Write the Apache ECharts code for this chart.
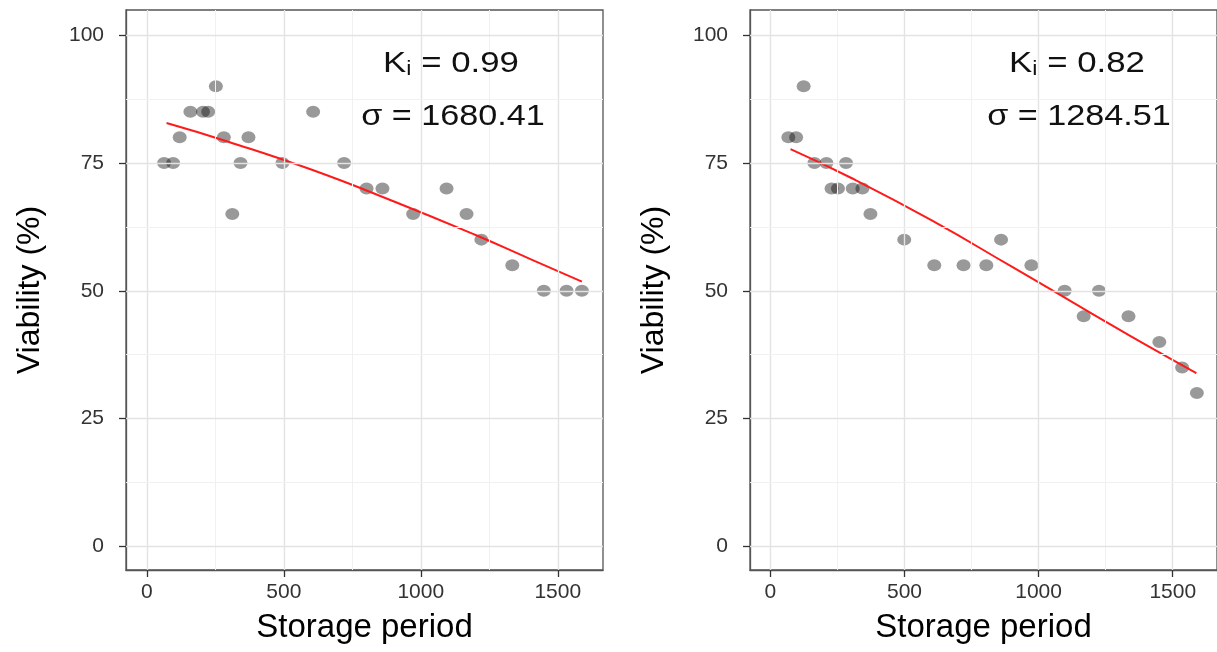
<!DOCTYPE html>
<html>
<head>
<meta charset="utf-8">
<script src="https://cdn.jsdelivr.net/npm/echarts@6/dist/echarts.min.js"></script>
<style>
html,body{margin:0;padding:0;background:#fff;}
#c{width:1217px;height:652px;}
</style>
</head>
<body>
<div id="c"></div>
<script>
// ---- data ----
const xTicks = [0, 500, 1000, 1500];
const xMinor = [250, 750, 1250];
const yTicks = [0, 25, 50, 75, 100];
const yMinor = [12.5, 37.5, 62.5, 87.5];

const leftX = [63, 96, 120, 159, 205, 224, 252, 281, 312, 342, 371, 495, 607, 720, 802, 860, 972, 1094, 1167, 1221, 1334, 1449, 1532, 1588];
const leftY = [75, 75, 80, 85, 85, 85, 90, 80, 65, 75, 80, 75, 85, 75, 70, 70, 65, 70, 65, 60, 55, 50, 50, 50];
const leftFitX = [72, 300, 600, 900, 1200, 1400, 1588];
const leftFitY = [82.8, 79.1, 73.7, 67.5, 60.9, 56.2, 51.8];
const leftKi = '0.99';
const leftSigma = '1680.41';

const rightX = [67, 96, 124, 164, 209, 228, 252, 282, 307, 343, 373, 499, 611, 720, 805, 860, 973, 1097, 1168, 1225, 1335, 1450, 1535, 1590];
const rightY = [80, 80, 90, 75, 75, 70, 70, 75, 70, 70, 65, 60, 55, 55, 55, 60, 55, 50, 45, 50, 45, 40, 35, 30];
const rightFitX = [75, 300, 600, 900, 1200, 1400, 1588];
const rightFitY = [77.7, 72.1, 63.8, 54.7, 45.5, 39.4, 33.9];
const rightKi = '0.82';
const rightSigma = '1284.51';

const xTitle = 'Storage period';
const yTitle = 'Viability (%)';

// ---- build ----
const zip = (a, b) => a.map((v, i) => [v, b[i]]);
const FONT = '"Liberation Sans", Arial, Helvetica, sans-serif';

function gridLines() {
  const d = [];
  const major = {color: '#e3e3e3', width: 1.4, type: 'solid'};
  const minor = {color: '#f1f1f1', width: 1, type: 'solid'};
  xTicks.forEach(v => d.push({xAxis: v, lineStyle: major}));
  xMinor.forEach(v => d.push({xAxis: v, lineStyle: minor}));
  yTicks.forEach(v => d.push({yAxis: v, lineStyle: major}));
  yMinor.forEach(v => d.push({yAxis: v, lineStyle: minor}));
  return d;
}

function xAxisDef(gi) {
  return {
    gridIndex: gi, type: 'value', min: -76, max: 1665,
    name: xTitle, nameLocation: 'middle', nameGap: 41,
    nameTextStyle: {color: '#000', fontSize: 33, fontFamily: FONT},
    axisLine: {show: true, onZero: false, lineStyle: {color: '#555', width: 1.3}},
    axisTick: {show: true, inside: false, length: 7, customValues: xTicks, lineStyle: {color: '#333', width: 1.3}},
    axisLabel: {customValues: xTicks, color: '#333', fontSize: 21, fontFamily: FONT, margin: 12,
                formatter: v => String(v)},
    splitLine: {show: false}
  };
}
function yAxisDef(gi) {
  return {
    gridIndex: gi, type: 'value', min: -4.6, max: 104.9,
    name: yTitle, nameLocation: 'middle', nameGap: 80, nameRotate: 90,
    nameTextStyle: {color: '#000', fontSize: 32, fontFamily: FONT},
    axisLine: {show: true, onZero: false, lineStyle: {color: '#555', width: 1.3}},
    axisTick: {show: true, inside: false, length: 7, customValues: yTicks, lineStyle: {color: '#333', width: 1.3}},
    axisLabel: {customValues: yTicks, color: '#333', fontSize: 21, fontFamily: FONT, margin: 22,
                formatter: v => String(v)},
    splitLine: {show: false}
  };
}

function panelSeries(gi, xs, ys, fx, fy) {
  return [
    {
      type: 'line', xAxisIndex: gi, yAxisIndex: gi, data: [], silent: true, z: 1,
      markLine: {silent: true, symbol: 'none', label: {show: false}, animation: false, data: gridLines()}
    },
    {
      type: 'scatter', xAxisIndex: gi, yAxisIndex: gi, data: zip(xs, ys), z: 3,
      symbol: 'circle', symbolSize: [14, 12],
      itemStyle: {color: 'rgba(0,0,0,0.5)'}
    },
    {
      type: 'line', xAxisIndex: gi, yAxisIndex: gi, data: zip(fx, fy), z: 4,
      smooth: true, showSymbol: false, symbol: 'none',
      lineStyle: {color: '#ff1a1a', width: 2}
    }
  ];
}

function annot(cx, ki, sigma) {
  return [
    {
      type: 'text', x: cx, y: 62, z: 10, scaleX: 1.16,
      style: {
        text: '{k|K}{s|i}{k| = ' + ki + '}',
        align: 'center', verticalAlign: 'middle',
        rich: {
          k: {fontSize: 30, lineHeight: 34, verticalAlign: 'bottom', fontFamily: FONT, fill: '#111'},
          s: {fontSize: 20, lineHeight: 20, verticalAlign: 'bottom', fontFamily: FONT, fill: '#111'}
        }
      }
    },
    {
      type: 'text', x: cx + 2, y: 117, z: 10, scaleX: 1.14,
      style: {
        text: 'σ = ' + sigma, align: 'center', verticalAlign: 'middle',
        fontSize: 30, fontFamily: FONT, fill: '#111'
      }
    }
  ];
}

const chart = echarts.init(document.getElementById('c'), null, {renderer: 'canvas'});
chart.setOption({
  animation: false,
  backgroundColor: '#fff',
  grid: [
    {left: 126, top: 10, width: 477, height: 560, show: true, borderColor: '#555', borderWidth: 1.3, backgroundColor: 'transparent'},
    {left: 750, top: 10, width: 477, height: 560, show: true, borderColor: '#555', borderWidth: 1.3, backgroundColor: 'transparent'}
  ],
  xAxis: [xAxisDef(0), xAxisDef(1)],
  yAxis: [yAxisDef(0), yAxisDef(1)],
  series: [].concat(
    panelSeries(0, leftX, leftY, leftFitX, leftFitY),
    panelSeries(1, rightX, rightY, rightFitX, rightFitY)
  ),
  graphic: [].concat(annot(451, leftKi, leftSigma), annot(1077, rightKi, rightSigma))
});
</script>
</body>
</html>
